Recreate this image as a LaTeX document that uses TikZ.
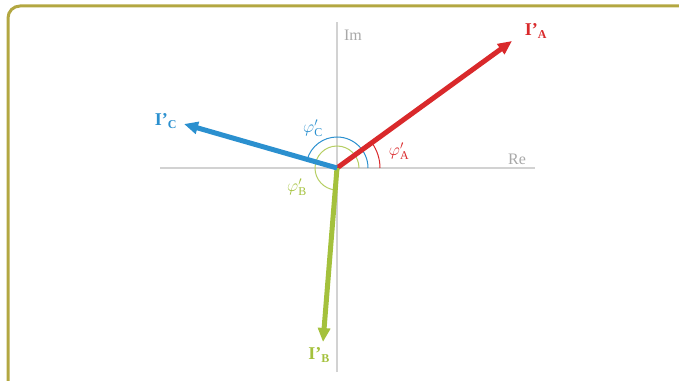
\documentclass[tikz,border=0pt]{standalone}
\usepackage{fontspec}
\setmainfont{Liberation Serif}
\usetikzlibrary{arrows.meta,positioning}
\definecolor{framegold}{HTML}{B3A741}
\definecolor{axisgray}{HTML}{D2D2D2}
\definecolor{labelgray}{HTML}{A8A8A8}
\definecolor{phasered}{HTML}{D9292B}
\definecolor{phaseblue}{HTML}{2B90CF}
\definecolor{phasegreen}{HTML}{A4C13C}

\newcommand{\subsc}[1]{\textsubscript{\fontsize{12}{12}\selectfont #1}}

\tikzset{
  phasor/.style={line width=5pt, -{Triangle[length=14pt,width=12pt]}},
  axisline/.style={draw=axisgray, line width=1.2pt},
  anglearc/.style={line width=1pt},
  currlabel/.style={font=\fontsize{18}{18}\selectfont\bfseries},
  anglabel/.style={font=\fontsize{17}{17}\selectfont},
  axislabel/.style={text=labelgray, font=\fontsize{16}{16}\selectfont}
}

\begin{document}
\begin{tikzpicture}[x=1pt,y=1pt]
\useasboundingbox (0,0) rectangle (679,380);
\clip (0,0) rectangle (679,380);
% frame
\draw[framegold, line width=3pt, rounded corners=12pt] (8,374) rectangle (700,-20);

% axes
\coordinate (o) at (337,212);
\coordinate (reend) at (535,212);
\coordinate (restart) at (160,212);
\coordinate (imtop) at (337,358);
\coordinate (imbot) at (337,8);
\draw[axisline] (restart) -- (reend);
\draw[axisline] (imbot) -- (imtop);
\node[axislabel] (re) at (517,221) {Re};
\node[axislabel] (im) at (353,345) {Im};

% angle arcs
\draw[anglearc, phasegreen!80] ([shift={(0:22)}]o) arc (0:265:22);
\draw[anglearc, phaseblue] ([shift={(0:31)}]o) arc (0:164:31);
\draw[anglearc, phasered] ([shift={(0:43)}]o) arc (0:36:43);

% phasors
\coordinate (ta) at (512,339);
\coordinate (tb) at (323,38);
\coordinate (tc) at (184,256);
\draw[phasor, phasered] (o) -- (ta);
\draw[phasor, phasegreen] (o) -- (tb);
\draw[phasor, phaseblue] (o) -- (tc);

% labels
\node[currlabel, text=phasered] (ia) at (536,349) {I'\subsc{A}};
\node[currlabel, text=phasegreen] (ib) at (319,25) {I'\subsc{B}};
\node[currlabel, text=phaseblue] (ic) at (166,259) {I'\subsc{C}};
\node[anglabel, text=phasered] (pa) at (399,229) {$\varphi'_{\mathrm{A}}$};
\node[anglabel, text=phaseblue] (pc) at (313,252) {$\varphi'_{\mathrm{C}}$};
\node[anglabel, text=phasegreen] (pb) at (297,193) {$\varphi'_{\mathrm{B}}$};
\end{tikzpicture}
\end{document}
